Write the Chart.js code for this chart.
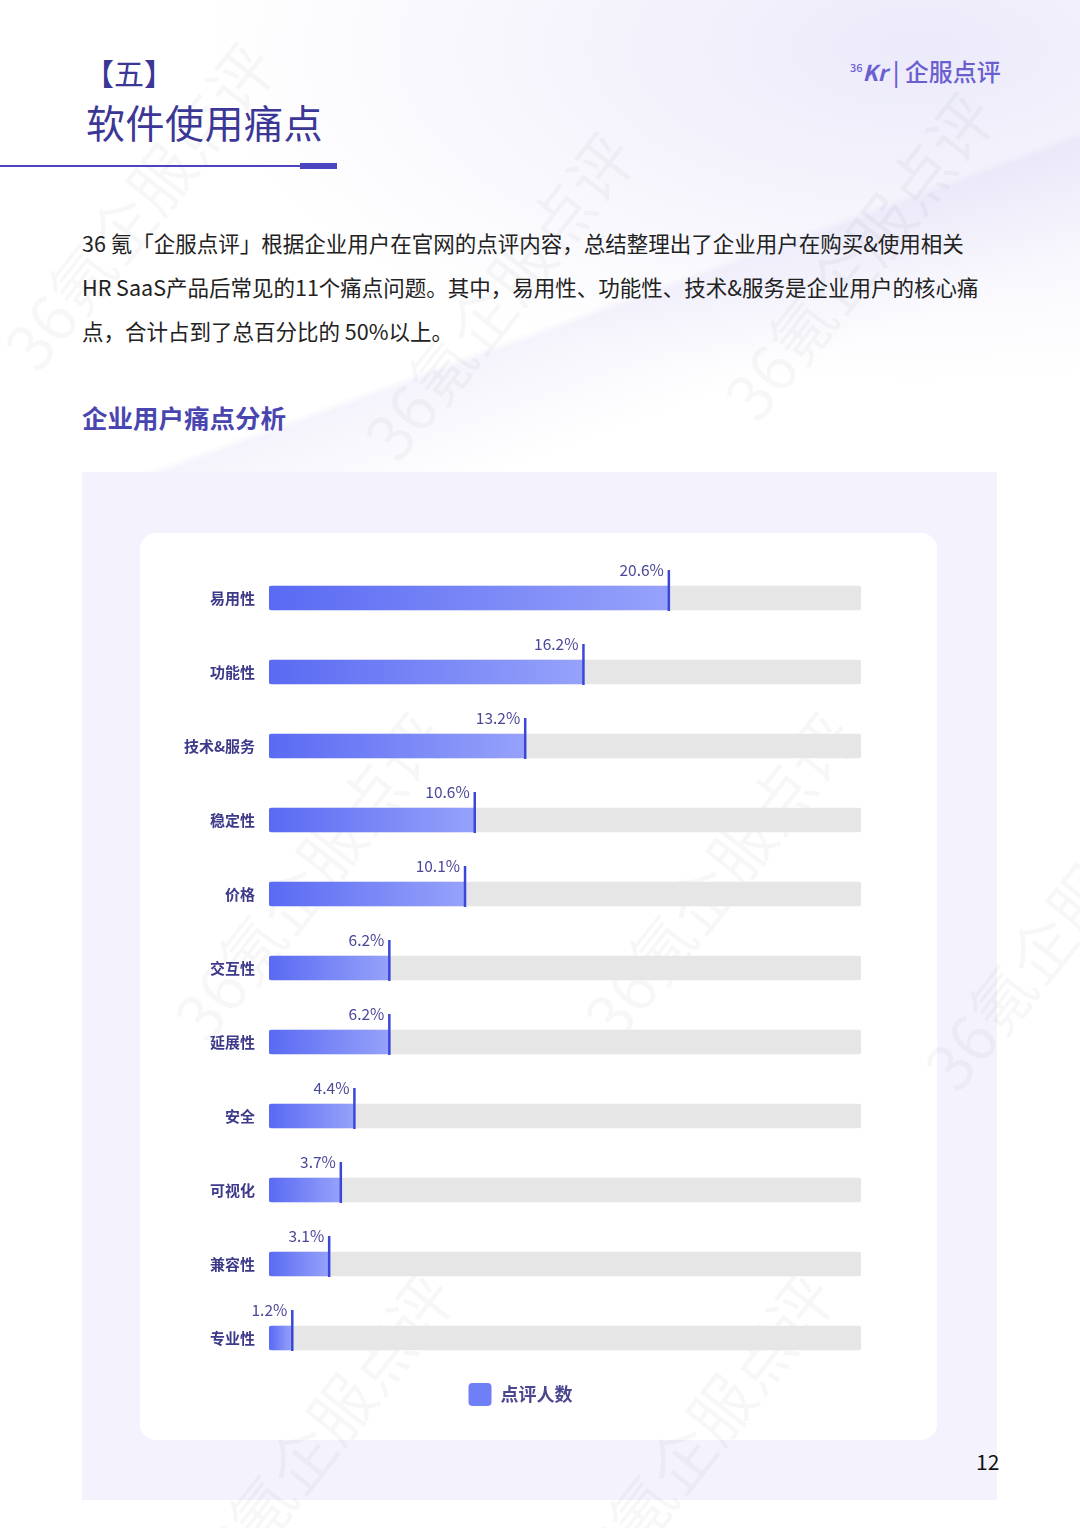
<!DOCTYPE html>
<html>
<head>
<meta charset="utf-8">
<script src="https://cdn.jsdelivr.net/npm/chart.js@4/dist/chart.umd.min.js"></script>
<style>
  html, body { margin: 0; padding: 0; }
  body {
    width: 1080px; height: 1528px; position: relative; overflow: hidden;
    background: #fff;
    font-family: "Noto Sans CJK SC", "Noto Sans", sans-serif;
  }
  .bgdeco {
    position: absolute; left: 0; top: 0; width: 1080px; height: 480px;
    background:
      radial-gradient(ellipse at 85% 10%, rgba(200,195,240,0.35), rgba(255,255,255,0) 55%),
      linear-gradient(160deg, rgba(255,255,255,0) 60%, rgba(225,222,245,0.35) 61%, rgba(255,255,255,0) 75%);
  }
  .wm {
    position: absolute; color: rgba(0,0,0,0.03); font-size: 64px; white-space: nowrap;
    transform: rotate(-52deg); transform-origin: left top; pointer-events: none;
    font-family: "Noto Sans CJK SC", serif;
  }
  .sec { position: absolute; left: 84px; top: 50px; font-size: 30px; color: #3c3796; }
  .title { position: absolute; left: 86px; top: 93px; font-size: 39px; color: #3c3796; letter-spacing: 0.5px; }
  .line1 { position: absolute; left: 0; top: 165px; width: 300px; height: 2px; background: #4b45c0; }
  .line2 { position: absolute; left: 300px; top: 163px; width: 37px; height: 6px; background: #4b45c0; }
  .logo { position: absolute; left: 850px; top: 53px; font-size: 24px; color: #6b5fd0; font-weight: 500; }
  .logo b { font-style: italic; font-size: 22px; }
  .logo sup { font-size: 11px; }
  .para {
    position: absolute; left: 82px; top: 221px; width: 960px;
    font-size: 21.5px; line-height: 44px; color: #222;
  }
  .sub { position: absolute; left: 82px; top: 398px; font-size: 25.5px; font-weight: bold; color: #4a46b0; }
  .panel { position: absolute; left: 82px; top: 472px; width: 915px; height: 1028px; background: #f4f3fd; }
  .card { position: absolute; left: 140px; top: 533px; width: 797px; height: 907px; background: #fff; border-radius: 16px; }
  .chartbox { position: absolute; left: 140px; top: 533px; width: 797px; height: 907px; }
  .page { position: absolute; left: 976px; top: 1446px; font-size: 21px; color: #111; }
</style>
</head>
<body>
<div class="bgdeco"></div>
<div class="panel"></div>
<div class="card"></div>

<div class="wm" style="left:-20px; top:330px;">36氪企服点评</div>
<div class="wm" style="left:340px; top:420px;">36氪企服点评</div>
<div class="wm" style="left:700px; top:380px;">36氪企服点评</div>
<div class="wm" style="left:150px; top:1000px;">36氪企服点评</div>
<div class="wm" style="left:560px; top:1000px;">36氪企服点评</div>
<div class="wm" style="left:900px; top:1050px;">36氪企服点评</div>
<div class="wm" style="left:160px; top:1560px;">36氪企服点评</div>
<div class="wm" style="left:540px; top:1560px;">36氪企服点评</div>

<div class="sec">【五】</div>
<div class="title">软件使用痛点</div>
<div class="line1"></div>
<div class="line2"></div>
<div class="logo"><sup>36</sup><b>Kr</b> | 企服点评</div>

<div class="para">36 氪「企服点评」根据企业用户在官网的点评内容，总结整理出了企业用户在购买&amp;使用相关<br>HR SaaS产品后常见的11个痛点问题。其中，易用性、功能性、技术&amp;服务是企业用户的核心痛<br>点，合计占到了总百分比的 50%以上。</div>
<div class="sub">企业用户痛点分析</div>

<div class="chartbox"><canvas id="myChart" width="797" height="907"></canvas></div>
<div class="page">12</div>

<script>
    // data
    const categories = ['易用性', '功能性', '技术&服务', '稳定性', '价格', '交互性', '延展性', '安全', '可视化', '兼容性', '专业性'];
    const values = [20.6, 16.2, 13.2, 10.6, 10.1, 6.2, 6.2, 4.4, 3.7, 3.1, 1.2];
    const seriesName = '点评人数';
    const axisMax = 30.5;
    const trackValues = [30.5, 30.5, 30.5, 30.5, 30.5, 30.5, 30.5, 30.5, 30.5, 30.5, 30.5];

    const textColor = '#3d3a8a';

    // gradient per bar, from axis start to bar end
    function barGradient(ctx) {
      const chart = ctx.chart;
      const xs = chart.scales.x;
      if (!xs || !chart.chartArea || ctx.type !== 'data') return '#6a7bf5';
      const x0 = xs.getPixelForValue(0);
      const x1 = xs.getPixelForValue(ctx.raw);
      const g = chart.ctx.createLinearGradient(x0, 0, Math.max(x1, x0 + 1), 0);
      g.addColorStop(0, '#5a6af3');
      g.addColorStop(1, '#96a2fa');
      return g;
    }

    // marker line + percentage label at bar end
    const endMarker = {
      id: 'endMarker',
      afterDatasetsDraw(chart) {
        const meta = chart.getDatasetMeta(1);
        const c = chart.ctx;
        c.save();
        meta.data.forEach((bar, i) => {
          const top = bar.y - bar.height / 2;
          const bottom = bar.y + bar.height / 2;
          c.strokeStyle = '#3a47d9';
          c.lineWidth = 2.5;
          c.beginPath();
          c.moveTo(bar.x, top - 16);
          c.lineTo(bar.x, bottom + 1);
          c.stroke();
          c.fillStyle = '#4a4898';
          c.font = '15.5px "Noto Sans CJK SC", sans-serif';
          c.textAlign = 'right';
          c.textBaseline = 'alphabetic';
          c.fillText(values[i].toFixed(1) + '%', bar.x - 5, top - 10);
        });
        c.restore();
      }
    };

    const data = {
      labels: categories,
      datasets: [
        {
          label: 'track',
          data: trackValues,
          backgroundColor: '#e6e6e6',
          borderRadius: 3,
          borderSkipped: false,
          barThickness: 24,
          grouped: false,
          order: 2
        },
        {
          label: seriesName,
          data: values,
          backgroundColor: barGradient,
          borderRadius: { topLeft: 3, bottomLeft: 3, topRight: 0, bottomRight: 0 },
          borderSkipped: false,
          barThickness: 24,
          grouped: false,
          order: 1
        }
      ]
    };

    const config = {
      type: 'bar',
      data,
      options: {
        indexAxis: 'y',
        responsive: false,
        animation: false,
        layout: { padding: { top: 28, right: 76, left: 40, bottom: 24 } },
        plugins: {
          tooltip: { enabled: false },
          legend: {
            position: 'bottom',
            labels: {
              boxWidth: 23,
              boxHeight: 23,
              useBorderRadius: true,
              borderRadius: 4,
              padding: 8,
              color: '#4a4690',
              font: { size: 18, weight: 'bold', family: '"Noto Sans CJK SC", sans-serif' },
              generateLabels: (chart) => [{
                text: seriesName,
                fillStyle: '#6f7ff6',
                strokeStyle: 'rgba(0,0,0,0)',
                lineWidth: 0,
                borderRadius: 4,
                datasetIndex: 1,
                fontColor: '#4a4690'
              }]
            }
          }
        },
        scales: {
          x: {
            display: false,
            min: 0,
            max: axisMax
          },
          y: {
            grid: { display: false },
            border: { display: false },
            ticks: {
              color: textColor,
              padding: 6,
              font: { size: 15, weight: 'bold', family: '"Noto Sans CJK SC", sans-serif' }
            },
            afterFit(scale) { scale.width = 89; }
          }
        }
      },
      plugins: [endMarker]
    };

    const myChart = new Chart(document.getElementById('myChart'), config);
</script>
</body>
</html>
